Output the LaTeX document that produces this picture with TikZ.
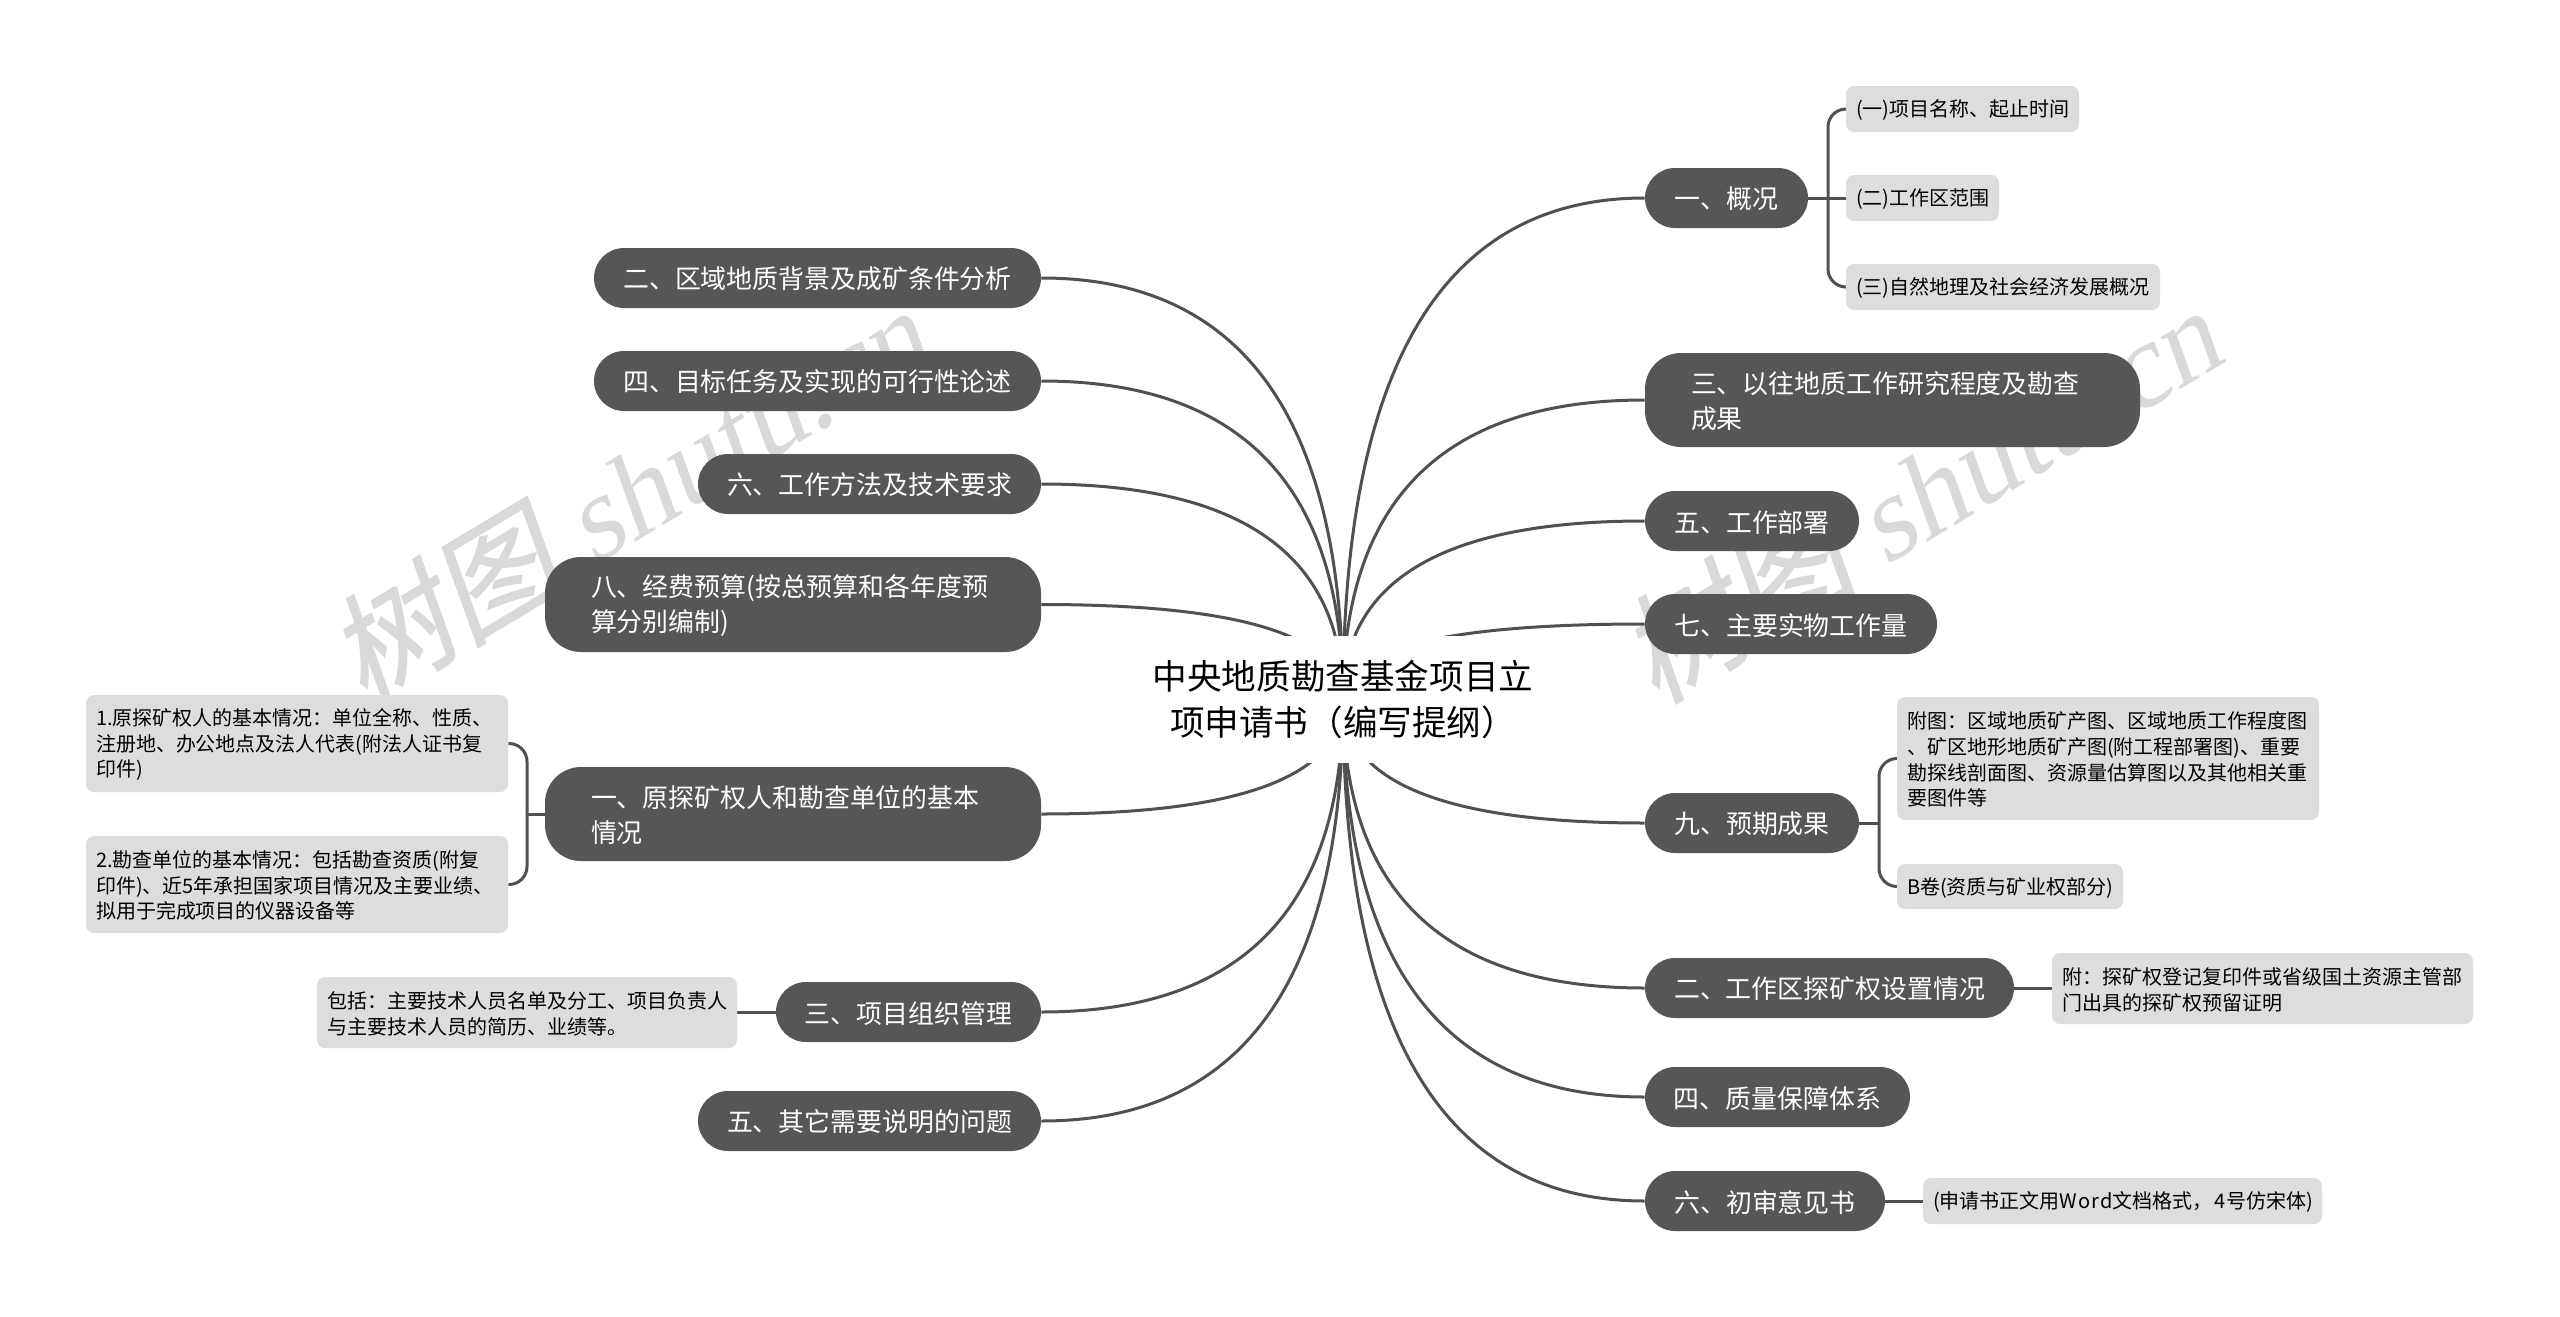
\documentclass[tikz,border=0pt]{standalone}
\usepackage{fontspec}
\setmainfont{Noto Sans CJK SC}
\newfontfamily\wmcjk[FakeSlant=0.2,FakeBold=1.2]{Noto Sans CJK SC}
\newfontfamily\wmlat[FakeSlant=0.2]{Liberation Serif}
\usetikzlibrary{calc}
\definecolor{pillfill}{HTML}{565656}
\definecolor{leaffill}{HTML}{DDDDDD}
\definecolor{wmark}{HTML}{D9D9D9}
\definecolor{linkcol}{HTML}{505050}
\tikzset{
  pill/.style={fill=pillfill,draw=none,text=white,inner sep=0pt,rounded corners=15pt,
    font=\fontsize{12.95}{17.5}\selectfont,execute at begin node={\rule{0pt}{0.93em}}},
  leaf/.style={fill=leaffill,draw=none,text=black,inner sep=0pt,rounded corners=4pt,
    font=\fontsize{10}{12.9}\selectfont,execute at begin node={\rule{0pt}{0.95em}}},
  linkline/.style={draw=linkcol,line width=1.5pt},
  watermark/.style={text=wmark,anchor=base west,rotate=31,inner sep=0pt},
}
\pgfdeclarelayer{wm}
\pgfdeclarelayer{edges}
\pgfsetlayers{wm,edges,main}
% single-line pill: name x1 y1 x2 y2 text
\newcommand{\onepill}[6]{%
  \pgfmathsetmacro{\bw}{(#4-#2)*0.5}\pgfmathsetmacro{\bh}{(#5-#3)*0.5}%
  \node[pill,minimum width=\bw pt,minimum height=\bh pt] (#1) at ({(#2+#4)/2},{(#3+#5)/2}) {#6};}
% two-line pill
\newcommand{\twopill}[6]{%
  \pgfmathsetmacro{\bw}{(#4-#2)*0.5}\pgfmathsetmacro{\bh}{(#5-#3)*0.5}\pgfmathsetmacro{\tw}{\bw-46}%
  \node[pill,rounded corners=18pt,inner xsep=23pt,text width=\tw pt,align=left,minimum height=\bh pt] (#1) at ({(#2+#4)/2},{(#3+#5)/2}) {#6};}
% leaf box
\newcommand{\leafbox}[6]{%
  \pgfmathsetmacro{\bw}{(#4-#2)*0.5}\pgfmathsetmacro{\bh}{(#5-#3)*0.5}\pgfmathsetmacro{\tw}{\bw-10}%
  \node[leaf,inner xsep=5pt,text width=\tw pt,align=left,minimum height=\bh pt] (#1) at ({(#2+#4)/2},{(#3+#5)/2}) {#6};}
% root curve
\newcommand{\rootlink}[2]{%
  \coordinate (qq) at (root.center |- #1.#2);
  \draw[linkline] (root.center) .. controls ($(root.center)!0.6667!(qq)$) and ($(#1.#2)!0.6667!(qq)$) .. (#1.#2);}
% bracket arm from junction to leaf
\newcommand{\brarm}[4]{%
  \draw[linkline,rounded corners=9pt] (#1 |- #2.#3) -- (#1 |- #4) -- (#4);}
\begin{document}
\begin{tikzpicture}[x=0.5pt,y=-0.5pt]
\useasboundingbox (0,0) rectangle (2560,1317);
\begin{pgfonlayer}{wm}
  \fill[white] (0,0) rectangle (2560,1317);
  \coordinate (wa) at (364,705);
  \coordinate (wb) at (1656,705);
  \node[watermark] (wmleft) at (wa) {\fontsize{59.5}{62}\selectfont\wmcjk 树图\wmlat\ shutu.cn};
  \node[watermark] (wmright) at (wb) {\fontsize{59.5}{62}\selectfont\wmcjk 树图\wmlat\ shutu.cn};
\end{pgfonlayer}

\node[fill=white,inner sep=0pt,minimum width=202pt,minimum height=63.5pt,align=center,
  font=\fontsize{17.3}{23.3}\selectfont] (root) at (1343,699.5) {中央地质勘查基金项目立\\项申请书（编写提纲）};

% left branches
\onepill{La}{594}{248}{1041}{308}{二、区域地质背景及成矿条件分析}
\onepill{Lb}{594}{351}{1041}{411}{四、目标任务及实现的可行性论述}
\onepill{Lc}{698}{454}{1041}{514}{六、工作方法及技术要求}
\twopill{Ld}{545}{557}{1041}{652}{八、经费预算(按总预算和各年度预\\算分别编制)}
\twopill{Le}{545}{767}{1041}{861}{一、原探矿权人和勘查单位的基本\\情况}
\onepill{Lf}{776}{982}{1041}{1042}{三、项目组织管理}
\onepill{Lg}{698}{1091}{1041}{1151}{五、其它需要说明的问题}

% left leaves
\leafbox{Lea}{86}{695}{508}{792}{1.原探矿权人的基本情况：单位全称、性质、\\注册地、办公地点及法人代表(附法人证书复\\印件)}
\leafbox{Leb}{86}{836}{508}{933}{2.勘查单位的基本情况：包括勘查资质(附复\\印件)、近5年承担国家项目情况及主要业绩、\\拟用于完成项目的仪器设备等}
\leafbox{Lfa}{317}{977}{737}{1048}{包括：主要技术人员名单及分工、项目负责人\\与主要技术人员的简历、业绩等。}

% right branches
\onepill{Ra}{1645}{168}{1808}{228}{一、概况}
\twopill{Rb}{1645}{353}{2140}{447}{三、以往地质工作研究程度及勘查\\成果}
\onepill{Rc}{1645}{491}{1859}{551}{五、工作部署}
\onepill{Rd}{1645}{594}{1937}{654}{七、主要实物工作量}
\onepill{Re}{1645}{793}{1859}{853}{九、预期成果}
\onepill{Rf}{1645}{958}{2014}{1018}{二、工作区探矿权设置情况}
\onepill{Rg}{1645}{1067}{1910}{1127}{四、质量保障体系}
\onepill{Rh}{1645}{1171}{1885}{1231}{六、初审意见书}

% right leaves
\leafbox{Raa}{1846}{86}{2079}{132}{(一)项目名称、起止时间}
\leafbox{Rab}{1846}{175}{1999}{221}{(二)工作区范围}
\leafbox{Rac}{1846}{264}{2160}{310}{(三)自然地理及社会经济发展概况}
\leafbox{Rea}{1897}{697}{2319}{820}{附图：区域地质矿产图、区域地质工作程度图\\、矿区地形地质矿产图(附工程部署图)、重要\\勘探线剖面图、资源量估算图以及其他相关重\\要图件等}
\leafbox{Reb}{1897}{864}{2123}{909}{B卷(资质与矿业权部分)}
\leafbox{Rfa}{2052}{953}{2473}{1024}{附：探矿权登记复印件或省级国土资源主管部\\门出具的探矿权预留证明}
\leafbox{Rha}{1923}{1178}{2322}{1224}{(申请书正文用W\kern.5pt o\kern.5pt r\kern.5pt d文档格式，\kern1pt 4\kern.5pt 号仿宋体)}

\begin{pgfonlayer}{edges}
  \rootlink{La}{east}\rootlink{Lb}{east}\rootlink{Lc}{east}\rootlink{Ld}{east}
  \rootlink{Le}{east}\rootlink{Lf}{east}\rootlink{Lg}{east}
  \rootlink{Ra}{west}\rootlink{Rb}{west}\rootlink{Rc}{west}\rootlink{Rd}{west}
  \rootlink{Re}{west}\rootlink{Rf}{west}\rootlink{Rg}{west}\rootlink{Rh}{west}
  % sub-branches
  \coordinate (ja) at (1828,198);
  \draw[linkline] (Ra.east) -- (Rab.west);
  \brarm{ja}{Ra}{east}{Raa.west}
  \brarm{ja}{Ra}{east}{Rac.west}
  \coordinate (je) at (1879,823);
  \draw[linkline] (Re.east) -- (je);
  \brarm{je}{Re}{east}{Rea.west}
  \brarm{je}{Re}{east}{Reb.west}
  \draw[linkline] (Rf.east) -- (Rf.east -| Rfa.west);
  \draw[linkline] (Rh.east) -- (Rh.east -| Rha.west);
  \coordinate (jl) at (527,814);
  \draw[linkline] (Le.west) -- (jl);
  \brarm{jl}{Le}{west}{Lea.east}
  \brarm{jl}{Le}{west}{Leb.east}
  \draw[linkline] (Lf.west) -- (Lf.west -| Lfa.east);
\end{pgfonlayer}
\end{tikzpicture}
\end{document}
